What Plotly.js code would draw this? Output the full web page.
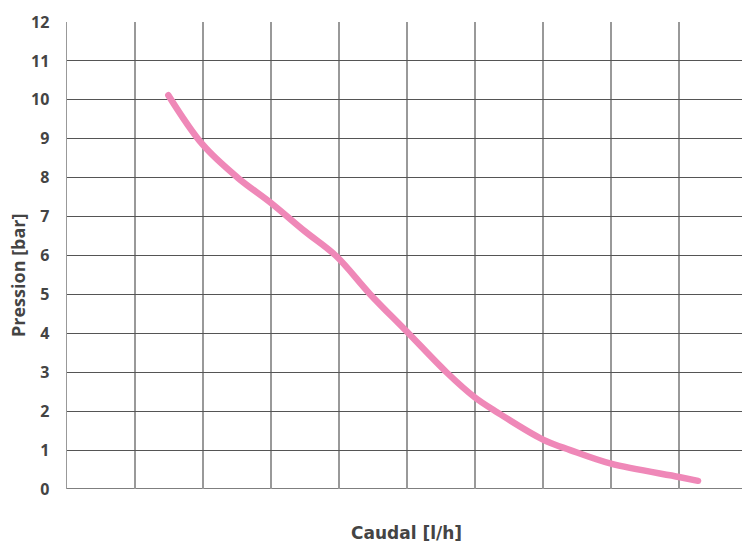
<!DOCTYPE html>
<html>
<head>
<meta charset="utf-8">
<script src="https://cdn.plot.ly/plotly-3.0.1.min.js"></script>
<style>html,body{margin:0;padding:0;background:#fff;}#chart{width:742px;height:545px;}</style>
</head>
<body>
<div id="chart"></div>
<script>
const caudal = [1.49, 2.0, 2.51, 3.0, 3.5, 3.95, 4.46, 5.0, 5.58, 6.0, 6.3, 7.0, 7.4, 8.0, 9.0, 9.28];
const pression = [10.12, 8.84, 8.0, 7.35, 6.62, 6.0, 5.0, 4.04, 3.0, 2.35, 2.0, 1.27, 1.0, 0.65, 0.31, 0.21];
const yTicks = [0,1,2,3,4,5,6,7,8,9,10,11,12];
const xTitle = 'Caudal [l/h]';
const yTitle = 'Pression [bar]';

const font = '"Open Sans", Lato, sans-serif';
const plotL = 67, plotW = 675;
Plotly.newPlot('chart', [{
  x: caudal, y: pression, type: 'scatter', mode: 'lines',
  line: {color: '#EF88B8', width: 6.5, shape: 'spline', smoothing: 1.0},
  hoverinfo: 'skip'
}], {
  width: 742, height: 545,
  margin: {l: plotL, r: 0, t: 22, b: 56},
  paper_bgcolor: '#fff', plot_bgcolor: '#fff',
  showlegend: false,
  font: {family: font, color: '#444'},
  xaxis: {
    range: [0, plotW/68], dtick: 1, tick0: 0, showticklabels: false,
    showgrid: true, gridcolor: '#999', gridwidth: 1.5, zeroline: false, showline: false,
    ticks: '', fixedrange: true
  },
  yaxis: {
    range: [0, 12], tickvals: yTicks, ticktext: yTicks.map(String),
    showgrid: true, gridcolor: '#555', gridwidth: 1, zeroline: false,
    showline: true, linecolor: '#999', linewidth: 1.5,
    ticks: '', ticklabelstandoff: 13, fixedrange: true,
    tickfont: {family: font, size: 16, color: '#444', weight: 'bold'}
  },
  annotations: [
    {text: xTitle, xref: 'paper', yref: 'paper', x: (407-plotL)/plotW, y: 0, xanchor: 'center', yanchor: 'middle',
     yshift: -44, borderpad: 0, showarrow: false, font: {family: '"DejaVu Sans", sans-serif', size: 17, color: '#444', weight: 'bold'}},
    {text: yTitle, xref: 'paper', yref: 'paper', x: 0, y: (489-275)/467, xanchor: 'center', yanchor: 'middle',
     xshift: 18-plotL, textangle: -90, showarrow: false, font: {family: font, size: 18, color: '#444', weight: 'bold'}}
  ],
  shapes: [
    {type: 'line', xref: 'paper', yref: 'y', x0: 0, x1: 1, y0: 0, y1: 0, line: {color: '#555', width: 1.5}, layer: 'below'}
  ]
}, {staticPlot: true}).then(function(){
  document.querySelectorAll('.scatterlayer path.js-line').forEach(function(p){
    p.style.strokeLinecap = 'round';
  });
});
</script>
</body>
</html>
